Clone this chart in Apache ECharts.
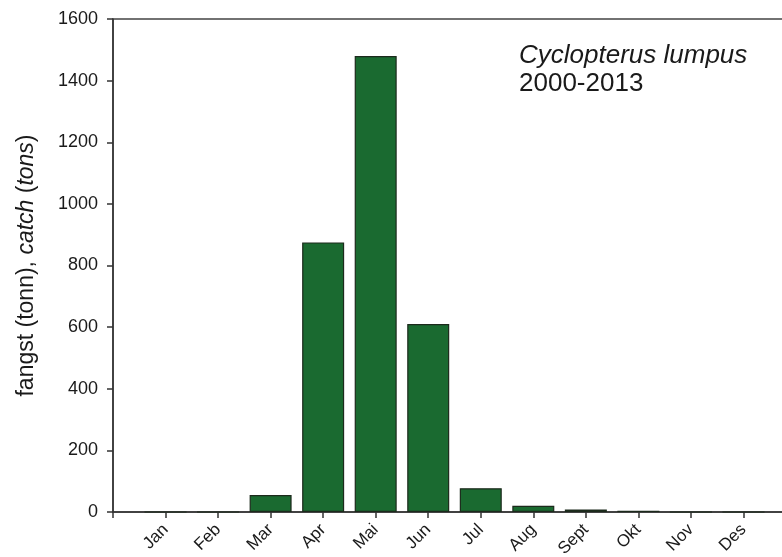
<!DOCTYPE html>
<html>
<head>
<meta charset="utf-8">
<script src="https://cdn.jsdelivr.net/npm/echarts@6/dist/echarts.min.js"></script>
<style>
html,body{margin:0;padding:0;background:#fff;overflow:hidden;width:782px;height:557px;}
#chart{width:796px;height:557px;}
</style>
</head>
<body>
<div id="chart"></div>
<script>
const months = ['Jan','Feb','Mar','Apr','Mai','Jun','Jul','Aug','Sept','Okt','Nov','Des'];
const catchTons = [0, 0, 55, 875, 1480, 610, 77, 20, 8, 4, 0, 0];
const yMin = 0, yMax = 1600, yStep = 200;
const speciesLabel = 'Cyclopterus lumpus';
const periodLabel = '2000-2013';

const chart = echarts.init(document.getElementById('chart'), null, {renderer: 'canvas'});
const font = 'Liberation Sans, Arial, sans-serif';
chart.setOption({
  animation: false,
  backgroundColor: '#ffffff',
  grid: {left: 113, right: 0, top: 19, bottom: 45, containLabel: false, outerBoundsMode: 'none',
         show: true, borderColor: '#444', borderWidth: 1.5, backgroundColor: 'transparent'},
  xAxis: {
    type: 'value', min: 0, max: 13, interval: 1,
    splitLine: {show: false},
    axisLine: {show: true, lineStyle: {color: '#333', width: 1.5}},
    axisTick: {show: true, length: 6, inside: false, lineStyle: {color: '#333', width: 1.5}},
    axisLabel: {
      rotate: 45, margin: 15, color: '#1a1a1a', fontFamily: font, fontSize: 17,
      formatter: v => months[v - 1] || ''
    }
  },
  yAxis: {
    type: 'value', min: yMin, max: yMax, interval: yStep,
    splitLine: {show: false},
    axisLine: {show: true, lineStyle: {color: '#333', width: 1.5}},
    axisTick: {show: true, length: 6, lineStyle: {color: '#333', width: 1.5}},
    axisLabel: {color: '#1a1a1a', fontFamily: font, fontSize: 18, margin: 15, formatter: v => String(v)},
    name: '{n|fangst (tonn), }{i|catch}{n| (}{i|tons}{n|)}',
    nameLocation: 'middle', nameRotate: 90, nameGap: 75,
    nameTextStyle: {
      rich: {
        n: {fontFamily: font, fontSize: 23, color: '#1a1a1a'},
        i: {fontFamily: font, fontSize: 23, color: '#1a1a1a', fontStyle: 'italic'}
      }
    }
  },
  series: [{
    type: 'bar',
    barWidth: 42,
    data: months.map((m, i) => [i + 1, catchTons[i]]),
    itemStyle: {color: '#1a6a30', borderColor: '#1c2a1c', borderWidth: 1.2}
  }],
  graphic: [
    {type: 'text', left: 519, top: 43, style: {text: speciesLabel, font: 'italic 26px ' + font, fill: '#1a1a1a'}},
    {type: 'text', left: 519, top: 71, style: {text: periodLabel, font: '26px ' + font, fill: '#1a1a1a'}}
  ]
});
</script>
</body>
</html>
